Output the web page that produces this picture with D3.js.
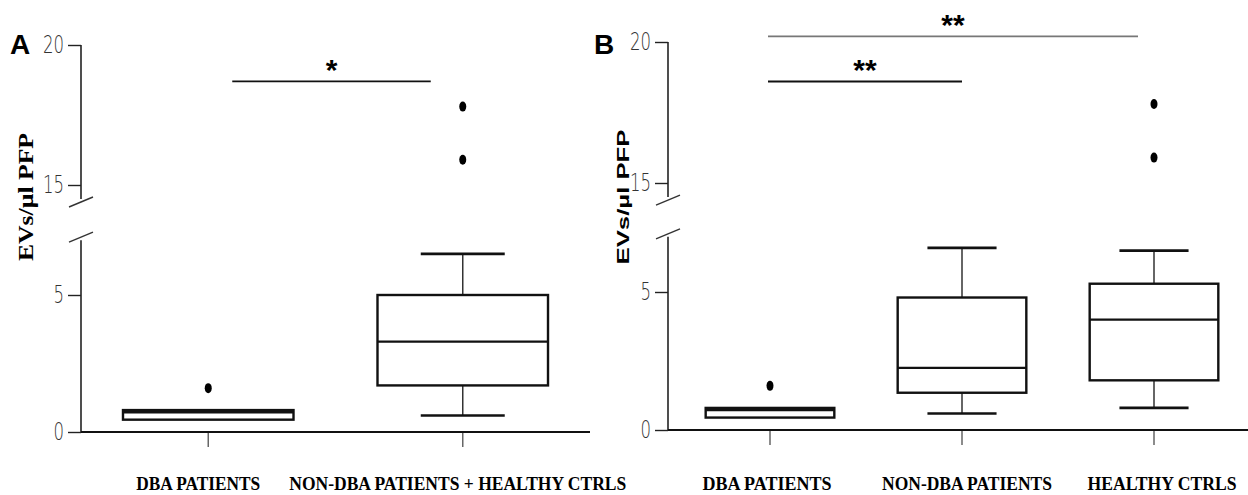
<!DOCTYPE html>
<html lang="en">
<head>
<meta charset="UTF-8">
<title>EVs boxplots</title>
<script src="https://d3js.org/d3.v7.min.js"></script>
<style>
  body { margin:0; background:#fff; }
  .ticklab { font-family:"DejaVu Sans", sans-serif; font-weight:200; font-size:24px; fill:#333; }
  .catlab { font-family:"Liberation Serif", serif; font-weight:bold; font-size:19px; fill:#000; }
  .panel { font-family:"Liberation Sans", Arial, sans-serif; font-weight:bold; font-size:28px; }
</style>
</head>
<body>
<script>
// ---- data ----
var catsA = ["DBA PATIENTS", "NON-DBA PATIENTS + HEALTHY CTRLS"];
var lowA  = [0.45, 0.6];
var q1A   = [0.45, 1.7];
var medA  = [0.72, 3.3];
var q3A   = [0.8, 5.0];
var highA = [0.8, 6.5];
var outA  = [[1.6], [17.8, 15.9]];

var catsB = ["DBA PATIENTS", "NON-DBA PATIENTS", "HEALTHY CTRLS"];
var lowB  = [0.45, 0.6, 0.8];
var q1B   = [0.45, 1.35, 1.8];
var medB  = [0.72, 2.25, 4.0];
var q3B   = [0.8, 4.8, 5.3];
var highB = [0.8, 6.6, 6.5];
var outB  = [[1.6], [], [17.8, 15.9]];

var lowerTicks = [0, 5];
var upperTicks = [15, 20];

// significance bars: [from category, to category, level, label]
var sigA = [[0, 1, 18.7, "*"]];
var sigB = [[0, 1, 18.6, "**"], [0, 2, 20.2, "**"]];

var W = 1248, H = 495;
var svg = d3.select("body").append("svg").attr("width", W).attr("height", H);

function panel(o) {
  var g = svg.append("g");
  var x = d3.scaleBand().domain(o.cats).range(o.xr).padding(0);
  var bw = x.bandwidth();
  var yLo = d3.scaleLinear().domain([0, 5]).range([o.y0, o.y5]);
  var yUp = d3.scaleLinear().domain([15, 20]).range([o.y15, o.y20]);
  var loTop = o.loTop, upBot = o.upBot;

  // y axis, two segments
  var axLo = g.append("g").attr("transform", "translate(" + o.ax + ",0)")
    .call(d3.axisLeft(yLo).tickValues(lowerTicks).tickFormat(d3.format("d")).tickSize(13).tickPadding(4));
  axLo.select(".domain").attr("d", "M0," + yLo(0) + "V" + yLo(loTop));
  var axUp = g.append("g").attr("transform", "translate(" + o.ax + ",0)")
    .call(d3.axisLeft(yUp).tickValues(upperTicks).tickFormat(d3.format("d")).tickSize(13).tickPadding(4));
  axUp.select(".domain").attr("d", "M0," + yUp(20) + "V" + yUp(upBot));
  g.selectAll(".domain").attr("stroke", "#222").attr("stroke-width", 1.6);
  g.selectAll(".tick line").attr("stroke", "#222").attr("stroke-width", 1.4);
  g.selectAll(".tick text").attr("class", "ticklab").attr("font-size", null).attr("font-family", null).attr("fill", null)
    .attr("textLength", function (d) { return String(d).length * 10.5; })
    .attr("lengthAdjust", "spacingAndGlyphs");

  // break marks
  [yUp(upBot) + 3, yLo(loTop) - 3].forEach(function (yy) {
    g.append("line").attr("x1", o.ax - 12).attr("x2", o.ax + 12)
      .attr("y1", yy + 5).attr("y2", yy - 5)
      .attr("stroke", "#333").attr("stroke-width", 1.4);
  });

  // x axis
  g.append("line").attr("x1", o.ax).attr("x2", o.xEnd)
    .attr("y1", yLo(0)).attr("y2", yLo(0)).attr("stroke", "#111").attr("stroke-width", 2.2);
  o.cats.forEach(function (c, i) {
    var cx = x(c) + bw / 2;
    g.append("line").attr("x1", cx).attr("x2", cx).attr("y1", yLo(0) + 1).attr("y2", yLo(0) + 15)
      .attr("stroke", "#666").attr("stroke-width", 1.5);
    g.append("text").attr("class", "catlab").attr("x", cx + o.labDx[i]).attr("y", o.labY)
      .attr("text-anchor", "middle").attr("textLength", o.labW[i]).attr("lengthAdjust", "spacingAndGlyphs")
      .text(c);
  });

  // boxes
  var bxW = bw * o.boxFrac, capW = bw * o.capFrac;
  o.cats.forEach(function (c, i) {
    var cx = x(c) + bw / 2;
    var bg = g.append("g");
    if (o.high[i] > o.q3[i]) {
      bg.append("line").attr("x1", cx).attr("x2", cx).attr("y1", yLo(o.q3[i])).attr("y2", yLo(o.high[i]))
        .attr("stroke", "#333").attr("stroke-width", 1.5);
      bg.append("line").attr("x1", cx - capW / 2).attr("x2", cx + capW / 2)
        .attr("y1", yLo(o.high[i])).attr("y2", yLo(o.high[i])).attr("stroke", "#111").attr("stroke-width", 2.6);
    }
    if (o.low[i] < o.q1[i]) {
      bg.append("line").attr("x1", cx).attr("x2", cx).attr("y1", yLo(o.q1[i])).attr("y2", yLo(o.low[i]))
        .attr("stroke", "#333").attr("stroke-width", 1.5);
      bg.append("line").attr("x1", cx - capW / 2).attr("x2", cx + capW / 2)
        .attr("y1", yLo(o.low[i])).attr("y2", yLo(o.low[i])).attr("stroke", "#111").attr("stroke-width", 2.6);
    }
    bg.append("rect").attr("x", cx - bxW / 2).attr("width", bxW)
      .attr("y", yLo(o.q3[i])).attr("height", yLo(o.q1[i]) - yLo(o.q3[i]))
      .attr("fill", "#fff").attr("stroke", "#111").attr("stroke-width", 2.4);
    bg.append("line").attr("x1", cx - bxW / 2).attr("x2", cx + bxW / 2)
      .attr("y1", yLo(o.med[i])).attr("y2", yLo(o.med[i])).attr("stroke", "#111").attr("stroke-width", 2.4);
    o.outs[i].forEach(function (v) {
      var yy = v >= 15 ? yUp(v) : yLo(v);
      bg.append("ellipse").attr("cx", cx).attr("cy", yy).attr("rx", 3.5).attr("ry", 5).attr("fill", "#000");
    });
  });

  // significance bars
  o.sig.forEach(function (s, k) {
    var x1 = x(o.cats[s[0]]) + bw / 2 + o.sigIn[k][0], x2 = x(o.cats[s[1]]) + bw / 2 - o.sigIn[k][1];
    var yy = yUp(s[2]);
    g.append("line").attr("x1", x1).attr("x2", x2).attr("y1", yy).attr("y2", yy)
      .attr("stroke", s[1] - s[0] > 1 ? "#777" : "#111").attr("stroke-width", 1.8);
    g.append("text").attr("x", (x1 + x2) / 2).attr("y", yy - 1)
      .attr("text-anchor", "middle").attr("font-family", "Liberation Sans, sans-serif")
      .attr("font-weight", "bold").attr("font-size", 30).text(s[3]);
  });

  // y label
  g.append("text").attr("transform", "translate(" + o.ylx + "," + o.yly + ") rotate(-90)")
    .attr("text-anchor", "middle").attr("font-family", o.ylFont)
    .attr("font-weight", "bold").attr("font-size", o.ylSize)
    .attr("textLength", o.ylLen).attr("lengthAdjust", "spacingAndGlyphs").text("EVs/\u00b5l PFP");

  svg.append("text").attr("class", "panel").attr("x", o.px).attr("y", 54).text(o.letter);
}

panel({
  cats: catsA, low: lowA, q1: q1A, med: medA, q3: q3A, high: highA, outs: outA, sig: sigA,
  xr: [81, 590], ax: 81, xEnd: 590, y0: 432, y5: 295, y15: 185, y20: 45, loTop: 7.0, upBot: 14.5,
  boxFrac: 0.67, capFrac: 0.33, labY: 490, labW: [124, 337], labDx: [-10, -5], sigIn: [[24, 32]],
  ylx: 33, yly: 197, ylFont: "Liberation Serif, serif", ylSize: 20, ylLen: 128, px: 10, letter: "A"
});
panel({
  cats: catsB, low: lowB, q1: q1B, med: medB, q3: q3B, high: highB, outs: outB, sig: sigB,
  xr: [674, 1250], ax: 668, xEnd: 1248, y0: 430, y5: 292, y15: 183, y20: 42, loTop: 7.0, upBot: 14.5,
  boxFrac: 0.67, capFrac: 0.36, labY: 490, labW: [129, 170, 149], labDx: [-3, 5, 8], sigIn: [[-2, 0], [-2, 16]],
  ylx: 629, yly: 197, ylFont: "Liberation Sans, sans-serif", ylSize: 17, ylLen: 135, px: 594, letter: "B"
});
</script>
</body>
</html>
